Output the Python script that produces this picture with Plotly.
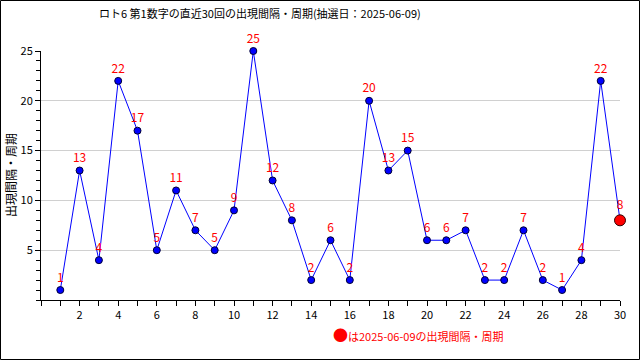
import plotly.graph_objects as go

draws = list(range(1, 31))
intervals = [1, 13, 4, 22, 17, 5, 11, 7, 5, 9, 25, 12, 8, 2, 6, 2, 20, 13, 15, 6,
             6, 7, 2, 2, 7, 2, 1, 4, 22, 8]
title_text = "ロト6 第1数字の直近30回の出現間隔・周期(抽選日：2025-06-09)"
y_title = "出現間隔・周期"
legend_text = "は2025-06-09の出現間隔・周期"
x_ticks = list(range(2, 31, 2))
y_ticks = [5, 10, 15, 20, 25]

FONT = "Noto Sans CJK JP"
L, R, T, B = 41, 20, 51, 60
PW, PH = 640 - L - R, 360 - T - B

fig = go.Figure()
fig.add_trace(go.Scatter(
    x=draws, y=intervals,
    mode="lines",
    line=dict(color="#0000ff", width=1),
    hoverinfo="skip", showlegend=False, cliponaxis=False))
fig.add_trace(go.Scatter(
    x=draws[:-1], y=intervals[:-1],
    mode="markers+text",
    marker=dict(color="#0000ff", size=7, line=dict(color="#000033", width=1)),
    text=[str(v) for v in intervals[:-1]],
    textposition="top center",
    textfont=dict(color="#ff0000", size=12, family=FONT),
    showlegend=False, cliponaxis=False))
fig.add_trace(go.Scatter(
    x=[draws[-1]], y=[intervals[-1]],
    mode="markers+text",
    marker=dict(color="#ff0000", size=11, line=dict(color="#330000", width=1)),
    text=[str(intervals[-1])],
    textposition="top center",
    textfont=dict(color="#ff0000", size=12, family=FONT),
    showlegend=False, cliponaxis=False))

fig.update_layout(
    width=640, height=360,
    margin=dict(l=L, r=R, t=T, b=B, autoexpand=False),
    paper_bgcolor="white", plot_bgcolor="white",
    font=dict(family=FONT, size=11, color="black"),
    xaxis=dict(range=[0, 30], tickvals=x_ticks, ticks="outside", ticklen=5,
               tickcolor="black", showline=True, linecolor="black", linewidth=1,
               showgrid=False, zeroline=False, automargin=False,
               minor=dict(dtick=1, tick0=0, ticks="outside", ticklen=5, tickcolor="black"),
               tickfont=dict(size=11, family=FONT)),
    yaxis=dict(range=[0, 25], tickvals=y_ticks, ticks="outside", ticklen=5,
               tickcolor="black", showline=True, linecolor="black", linewidth=1,
               showgrid=True, gridcolor="#d0d0d0", gridwidth=1, zeroline=False,
               automargin=False,
               minor=dict(dtick=1, tick0=0, ticks="outside", ticklen=4, tickcolor="black",
                          showgrid=False),
               tickfont=dict(size=11, family=FONT)),
)

# title
fig.add_annotation(xref="paper", yref="paper",
                   x=(260 - L) / PW, y=(300 - 13) / PH, xanchor="center", yanchor="middle",
                   text=title_text, showarrow=False,
                   font=dict(size=11, family=FONT, color="black"))

# y axis title
fig.add_annotation(xref="paper", yref="paper",
                   x=(10 - L) / PW, y=(300 - 175) / PH, xanchor="center", yanchor="middle",
                   text=y_title, textangle=-90, showarrow=False,
                   font=dict(size=12, family=FONT, color="black"))

# outer border
fig.add_shape(type="rect", xref="paper", yref="paper",
              x0=(0.5 - L) / PW, x1=(639.5 - L) / PW,
              y0=(300 - 359.5) / PH, y1=(300 - 0.5) / PH,
              line=dict(color="black", width=1), fillcolor="rgba(0,0,0,0)", layer="above")

# legend note
fig.add_annotation(xref="paper", yref="paper",
                   x=(506 - L) / PW, y=(300 - 334) / PH, xanchor="right", yanchor="middle",
                   text="<span style='font-size:15px'>●</span>" + legend_text,
                   showarrow=False, font=dict(color="#ff0000", size=11, family=FONT))

fig.write_html("out.html", config={"displayModeBar": False},
               post_script="document.body.style.margin='0';")
